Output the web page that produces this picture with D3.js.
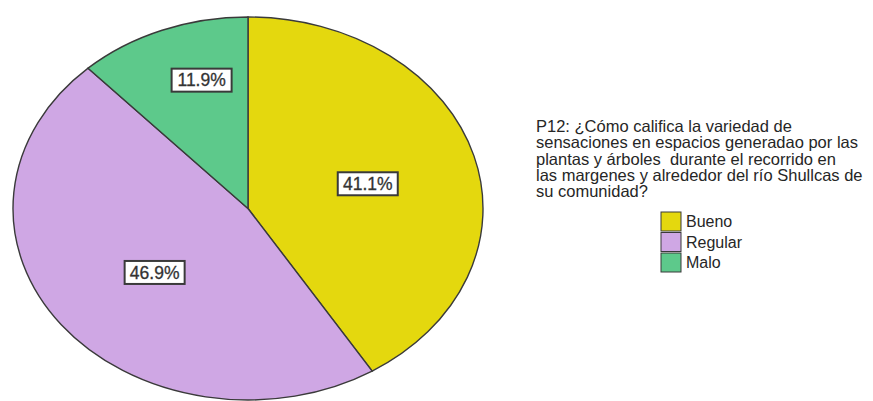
<!DOCTYPE html>
<html>
<head>
<meta charset="utf-8">
<script src="https://cdn.jsdelivr.net/npm/d3@7"></script>
<style>
  body { margin: 0; background: #fff; }
  svg { font-family: "Liberation Sans", Arial, sans-serif; }
  text { white-space: pre; }
</style>
</head>
<body>
<div class="chart_view"></div>
<script>
// data
var categories = ["Bueno", "Regular", "Malo"];
var percents = [41.1, 46.9, 11.9];
var colors = ["#e4d80e", "#cfa7e4", "#5dc98b"];
var titleLines = [
  "P12: ¿Cómo califica la variedad de",
  "sensaciones en espacios generadao por las",
  "plantas y árboles  durante el recorrido en",
  "las margenes y alrededor del río Shullcas de",
  "su comunidad?"
];

// layout: where each label sits, as fraction of the radii
var labelFrac = [[0.53, 0.47], [0.5, 0.55], [0.54, 0.72]];

var width = 873, height = 401;
var cx = 248, cy = 208.5, rx = 235, ry = 191.5;

var svg = d3
  .select(".chart_view")
  .append("svg")
  .attr("width", width)
  .attr("height", height);

var pie = d3.pie().sort(null).value(function (d) { return d; });
var arcs = pie(percents);

// draw on a circle of radius ry and stretch horizontally
var arc = d3.arc().innerRadius(0).outerRadius(ry);
var g = svg
  .append("g")
  .attr("transform", "translate(" + cx + "," + cy + ") scale(" + rx / ry + ",1)");

g.selectAll(".slice")
  .data(arcs)
  .enter()
  .append("path")
  .attr("class", "slice")
  .attr("d", arc)
  .style("fill", function (d, i) { return colors[i]; })
  .style("stroke", "#3a3a3a")
  .style("stroke-width", "1.4px")
  .attr("vector-effect", "non-scaling-stroke");

// labels
var labels = svg
  .selectAll(".lbl")
  .data(arcs)
  .enter()
  .append("g")
  .attr("class", "lbl")
  .attr("transform", function (d, i) {
    var a = (d.startAngle + d.endAngle) / 2;
    var x = cx + rx * Math.sin(a) * labelFrac[i][0];
    var y = cy - ry * Math.cos(a) * labelFrac[i][1];
    return "translate(" + x + "," + y + ")";
  });

labels
  .append("rect")
  .attr("x", -30)
  .attr("y", -11.5)
  .attr("width", 60)
  .attr("height", 23)
  .style("fill", "#fff")
  .style("stroke", "#3a3a3a")
  .style("stroke-width", "2px");

labels
  .append("text")
  .attr("text-anchor", "middle")
  .attr("dy", "0.36em")
  .style("font-size", "17.5px")
  .style("fill", "#333")
  .style("stroke", "#333")
  .style("stroke-width", "0.3px")
  .text(function (d, i) { return percents[i].toFixed(1) + "%"; });

// legend title
var title = svg
  .append("text")
  .attr("x", 536)
  .attr("y", 132)
  .style("font-size", "16.5px")
  .style("fill", "#262626");

title
  .selectAll("tspan")
  .data(titleLines)
  .enter()
  .append("tspan")
  .attr("x", 536)
  .attr("dy", function (d, i) { return i === 0 ? 0 : 16.3; })
  .text(function (d) { return d; });

// legend items
var legend = svg
  .selectAll(".legend")
  .data(categories)
  .enter()
  .append("g")
  .attr("class", "legend")
  .attr("transform", function (d, i) {
    return "translate(661," + (212 + i * 20.5) + ")";
  });

legend
  .append("rect")
  .attr("width", 20)
  .attr("height", 19)
  .style("fill", function (d, i) { return colors[i]; })
  .style("stroke", "#3a3a3a")
  .style("stroke-width", "1px");

legend
  .append("text")
  .attr("x", 25)
  .attr("y", 15)
  .style("font-size", "16px")
  .style("fill", "#262626")
  .text(function (d) { return d; });
</script>
</body>
</html>
